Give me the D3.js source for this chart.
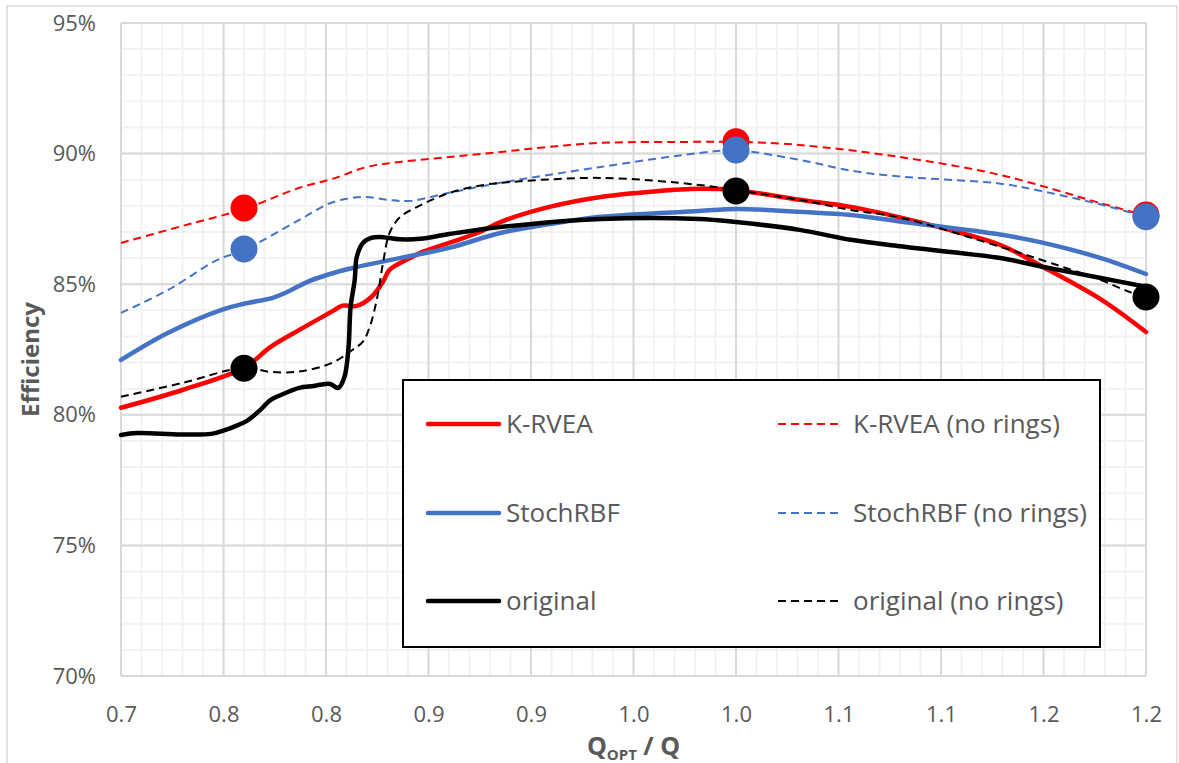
<!DOCTYPE html>
<html>
<head>
<meta charset="utf-8">
<script src="https://cdn.jsdelivr.net/npm/d3@7"></script>
<style>
  html, body { margin: 0; padding: 0; background: #ffffff; }
  svg { display: block; }
  text { font-family: "Open Sans", "Noto Sans", sans-serif; }
</style>
</head>
<body>
<svg id="chart" width="1179" height="763"></svg>
<script>
// Efficiency vs. flow ratio Q_OPT / Q, values in percent
const kRvea = [
  [0.700, 80.27], [0.730, 80.95], [0.760, 81.80], [0.773, 82.60], [0.787, 83.25],
  [0.803, 83.96], [0.808, 84.18], [0.815, 84.17], [0.822, 84.50], [0.828, 85.12],
  [0.831, 85.55], [0.841, 86.00], [0.846, 86.20], [0.860, 86.58], [0.875, 87.00],
  [0.885, 87.38], [0.909, 87.96], [0.934, 88.34], [0.960, 88.55], [0.982, 88.65],
  [1.000, 88.60], [1.031, 88.23], [1.056, 87.96], [1.080, 87.56], [1.104, 87.08],
  [1.129, 86.50], [1.150, 85.65], [1.178, 84.42], [1.200, 83.17]
];
const kRveaNoRings = [
  [0.700, 86.58], [0.730, 87.23], [0.760, 87.88], [0.787, 88.69], [0.803, 89.03],
  [0.820, 89.49], [0.836, 89.68], [0.860, 89.87], [0.885, 90.06], [0.909, 90.26],
  [0.934, 90.41], [0.982, 90.45], [1.000, 90.45], [1.031, 90.33], [1.080, 89.87],
  [1.129, 89.18], [1.178, 88.10], [1.200, 87.62]
];
const stochRbf = [
  [0.700, 82.10], [0.723, 83.14], [0.749, 84.02], [0.760, 84.25], [0.774, 84.48],
  [0.781, 84.70], [0.791, 85.09], [0.802, 85.39], [0.813, 85.62], [0.836, 86.00],
  [0.860, 86.39], [0.885, 86.96], [0.909, 87.30], [0.934, 87.58], [0.982, 87.80],
  [1.000, 87.88], [1.031, 87.77], [1.056, 87.65], [1.080, 87.40], [1.129, 86.90],
  [1.150, 86.58], [1.178, 86.00], [1.200, 85.39]
];
const stochRbfNoRings = [
  [0.700, 83.90], [0.723, 84.78], [0.747, 85.93], [0.760, 86.31], [0.787, 87.46],
  [0.803, 88.13], [0.818, 88.34], [0.830, 88.23], [0.841, 88.19], [0.860, 88.50],
  [0.885, 88.88], [0.934, 89.49], [0.982, 90.02], [1.000, 90.12], [1.031, 89.76],
  [1.056, 89.35], [1.080, 89.12], [1.104, 89.00], [1.129, 88.85], [1.150, 88.55],
  [1.178, 88.05], [1.200, 87.58]
];
const original = [
  [0.700, 79.23], [0.708, 79.30], [0.729, 79.25], [0.744, 79.27], [0.751, 79.42],
  [0.755, 79.54], [0.762, 79.80], [0.768, 80.19], [0.773, 80.57], [0.778, 80.76],
  [0.787, 81.03], [0.794, 81.10], [0.797, 81.15], [0.802, 81.18], [0.806, 81.03],
  [0.809, 81.45], [0.811, 82.60], [0.812, 84.13], [0.814, 85.16], [0.815, 86.04],
  [0.818, 86.58], [0.822, 86.77], [0.826, 86.81], [0.836, 86.72], [0.846, 86.74],
  [0.860, 86.92], [0.885, 87.19], [0.934, 87.50], [0.982, 87.50], [1.000, 87.38],
  [1.031, 87.08], [1.056, 86.70], [1.080, 86.45], [1.129, 86.00], [1.150, 85.66],
  [1.178, 85.24], [1.200, 84.90]
];
const originalNoRings = [
  [0.700, 80.69], [0.730, 81.22], [0.760, 81.80], [0.773, 81.64], [0.787, 81.66],
  [0.803, 81.99], [0.813, 82.49], [0.818, 82.80], [0.8215, 83.40], [0.825, 84.50],
  [0.828, 85.90], [0.831, 86.96], [0.836, 87.56], [0.844, 87.94], [0.8605, 88.50],
  [0.877, 88.80], [0.885, 88.88], [0.934, 89.07], [0.982, 88.80], [1.000, 88.60],
  [1.031, 88.23], [1.056, 87.84], [1.080, 87.55], [1.129, 86.43], [1.154, 85.80],
  [1.178, 85.16], [1.192, 84.70], [1.200, 84.50]
];

// Design points shown as large dots
const kRveaPoints = [[0.76, 87.92], [1.00, 90.45], [1.20, 87.65]];
const stochRbfPoints = [[0.76, 86.35], [1.00, 90.14], [1.20, 87.58]];
const originalPoints = [[0.76, 81.78], [1.00, 88.57], [1.20, 84.51]];

const seriesNames = ["K-RVEA", "K-RVEA (no rings)", "StochRBF", "StochRBF (no rings)", "original", "original (no rings)"];

const xTicks = [0.70, 0.75, 0.80, 0.85, 0.90, 0.95, 1.00, 1.05, 1.10, 1.15, 1.20];
const xTickLabels = ["0.7", "0.8", "0.8", "0.9", "0.9", "1.0", "1.0", "1.1", "1.1", "1.2", "1.2"];
const yTicks = [70, 75, 80, 85, 90, 95];
const yTickLabels = ["70%", "75%", "80%", "85%", "90%", "95%"];

const RED = "#FF0000", BLUE = "#4472C4", BLACK = "#000000";

const series = [
  { name: seriesNames[0], data: kRvea, color: RED, dashed: false },
  { name: seriesNames[1], data: kRveaNoRings, color: RED, dashed: true },
  { name: seriesNames[2], data: stochRbf, color: BLUE, dashed: false },
  { name: seriesNames[3], data: stochRbfNoRings, color: BLUE, dashed: true },
  { name: seriesNames[4], data: original, color: BLACK, dashed: false },
  { name: seriesNames[5], data: originalNoRings, color: BLACK, dashed: true }
];
const pointSets = [
  { data: kRveaPoints, color: RED },
  { data: stochRbfPoints, color: BLUE },
  { data: originalPoints, color: BLACK }
];

const svg = d3.select("#chart");

// outer chart frame
svg.append("rect")
  .attr("x", 7).attr("y", 6).attr("width", 1170).attr("height", 800)
  .attr("fill", "#ffffff").attr("stroke", "#D9D9D9").attr("stroke-width", 1.5);

const x = d3.scaleLinear().domain([0.7, 1.2]).range([121, 1146]);
const y = d3.scaleLinear().domain([70, 95]).range([676, 23]);

// minor grid
const grid = svg.append("g");
const minorX = d3.range(0, 51).map(i => 0.7 + i * 0.01);
const minorY = d3.range(0, 26).map(i => 70 + i);
grid.selectAll("line.mx").data(minorX).join("line")
  .attr("x1", d => x(d)).attr("x2", d => x(d))
  .attr("y1", y(70)).attr("y2", y(95))
  .attr("stroke", "#F2F2F2").attr("stroke-width", 2);
grid.selectAll("line.my").data(minorY).join("line")
  .attr("x1", x(0.7)).attr("x2", x(1.2))
  .attr("y1", d => y(d)).attr("y2", d => y(d))
  .attr("stroke", "#F2F2F2").attr("stroke-width", 2);
// major grid
grid.selectAll("line.gx").data(xTicks).join("line")
  .attr("x1", d => x(d)).attr("x2", d => x(d))
  .attr("y1", y(70)).attr("y2", y(95))
  .attr("stroke", "#D9D9D9").attr("stroke-width", 2);
grid.selectAll("line.gy").data(yTicks).join("line")
  .attr("x1", x(0.7)).attr("x2", x(1.2))
  .attr("y1", d => y(d)).attr("y2", d => y(d))
  .attr("stroke", "#D9D9D9").attr("stroke-width", 2);

// axes
const xAxis = d3.axisBottom(x).tickValues(xTicks)
  .tickFormat((d, i) => xTickLabels[i]).tickSize(0).tickPadding(30);
const gx = svg.append("g").attr("transform", `translate(0,${y(70)})`).call(xAxis);
gx.select(".domain").remove();
gx.selectAll("text").attr("font-size", 22).attr("fill", "#595959")
  .style("font-family", "'Open Sans', sans-serif");

const yAxis = d3.axisLeft(y).tickValues(yTicks)
  .tickFormat((d, i) => yTickLabels[i]).tickSize(0).tickPadding(25);
const gy = svg.append("g").attr("transform", `translate(${x(0.7)},0)`).call(yAxis);
gy.select(".domain").remove();
gy.selectAll("text").attr("font-size", 22).attr("fill", "#595959")
  .style("font-family", "'Open Sans', sans-serif");

// axis titles
const xt = svg.append("text")
  .attr("x", (x(0.7) + x(1.2)) / 2).attr("y", 755)
  .attr("text-anchor", "middle").attr("font-size", 25).attr("font-weight", "bold")
  .attr("fill", "#595959");
xt.append("tspan").text("Q");
xt.append("tspan").attr("font-size", 15).attr("dy", 5).text("OPT");
xt.append("tspan").attr("dy", -5).text(" / Q");

svg.append("text")
  .attr("transform", `translate(39,${(y(70) + y(95)) / 2 + 10}) rotate(-90)`)
  .attr("text-anchor", "middle").attr("font-size", 24).attr("font-weight", "bold")
  .attr("fill", "#595959").text("Efficiency");

// series lines, smoothed through the read points
const line = d3.line().x(d => x(d[0])).y(d => y(d[1])).curve(d3.curveCatmullRom.alpha(0.5));
const lines = svg.append("g");
series.forEach(s => {
  lines.append("path")
    .attr("d", line(s.data))
    .attr("fill", "none")
    .attr("stroke", s.color)
    .attr("stroke-width", s.dashed ? 2 : 4.5)
    .attr("stroke-dasharray", s.dashed ? "8,5" : null)
    .attr("stroke-linecap", s.dashed ? "butt" : "round")
    .attr("stroke-linejoin", "round");
});

// design points
pointSets.forEach(p => {
  svg.append("g").selectAll("circle").data(p.data).join("circle")
    .attr("cx", d => x(d[0])).attr("cy", d => y(d[1]))
    .attr("r", 13.5).attr("fill", p.color);
});

// legend
const lg = svg.append("g");
lg.append("rect")
  .attr("x", 403).attr("y", 380).attr("width", 697).attr("height", 267)
  .attr("fill", "#ffffff").attr("stroke", "#000000").attr("stroke-width", 2);
const rowY = [424, 513, 601];
series.forEach((s, i) => {
  const row = Math.floor(i / 2), col = i % 2;
  const x0 = col === 0 ? 428 : 778;
  const x1 = col === 0 ? 499 : 843;
  const tx = col === 0 ? 506 : 853;
  lg.append("line")
    .attr("x1", x0).attr("x2", x1).attr("y1", rowY[row]).attr("y2", rowY[row])
    .attr("stroke", s.color)
    .attr("stroke-width", s.dashed ? 2 : 4.5)
    .attr("stroke-dasharray", s.dashed ? "8,5" : null)
    .attr("stroke-linecap", s.dashed ? "butt" : "round");
  lg.append("text")
    .attr("x", tx).attr("y", rowY[row]).attr("dy", "0.35em")
    .attr("font-size", 26).attr("fill", "#595959").text(s.name);
});
</script>
</body>
</html>
